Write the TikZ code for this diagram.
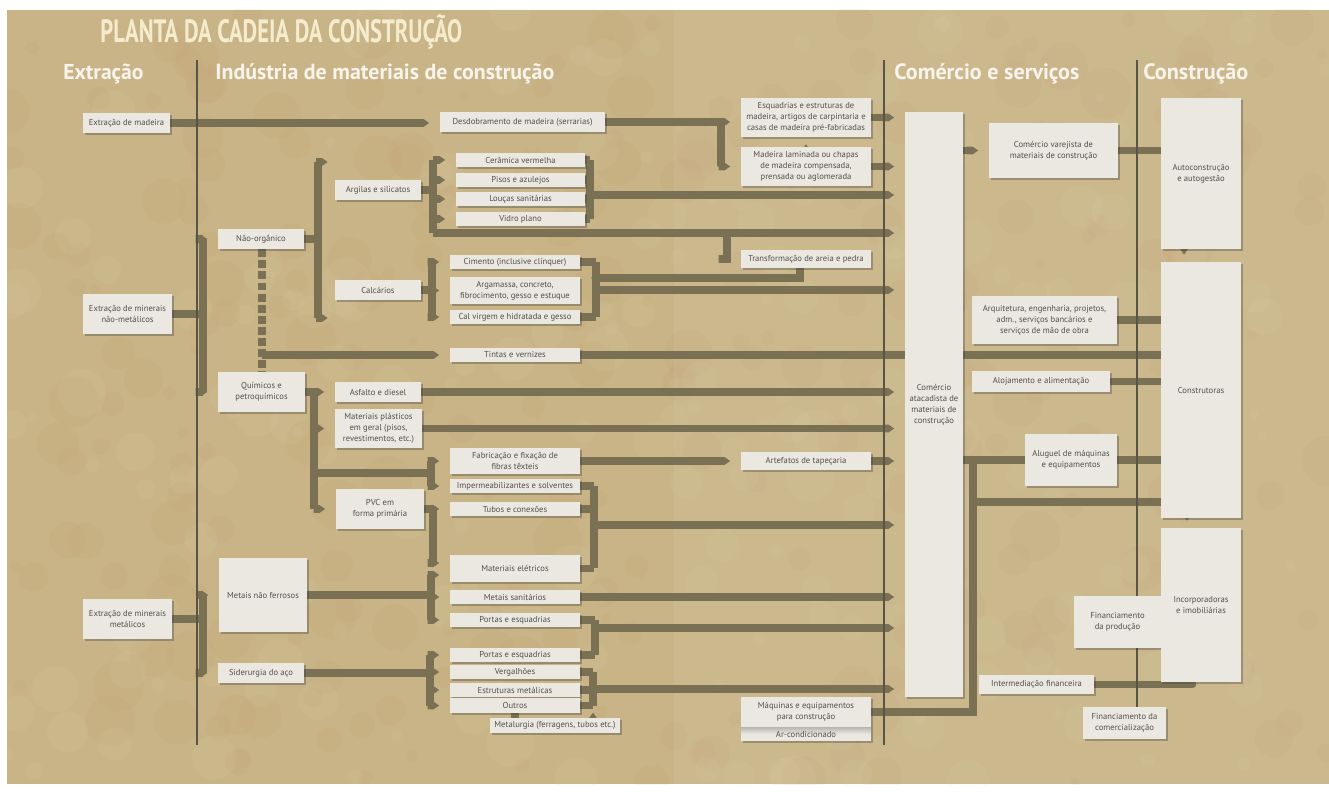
\documentclass[tikz,border=0pt]{standalone}
\usepackage{fontspec}
\setmainfont{PT Sans}
\usetikzlibrary{arrows.meta,shadows,calc}
\definecolor{bgc}{RGB}{200,180,134}
\definecolor{blotc}{RGB}{196,140,96}
\definecolor{litc}{RGB}{226,212,176}
\definecolor{boxc}{RGB}{235,232,226}
\definecolor{bandc}{RGB}{122,112,83}
\definecolor{sepc}{RGB}{88,84,70}
\definecolor{txtc}{RGB}{82,80,76}
\definecolor{titc}{RGB}{245,236,205}
\definecolor{hdc}{RGB}{248,244,236}
\pgfdeclarelayer{back}\pgfdeclarelayer{bands}
\pgfsetlayers{back,bands,main}
\newcommand\bx[6]{\node[box,minimum width={(#4-#2)*0.02cm},minimum height={(#5-#3)*0.02cm}] (#1) at ({(#2+#4)/2},{(#3+#5)/2}) {#6};}
\begin{document}
\begin{tikzpicture}[x=0.02cm,y=-0.02cm,
  band/.style={draw=bandc,line width=4.5pt},
  arr/.style={-{Triangle Cap[cap angle=70]},shorten >=6pt},
  arrs/.style={-{Triangle Cap[cap angle=70]},shorten >=4pt},
  sep/.style={draw=sepc,line width=0.9pt},
  hd/.style={anchor=base west,text=hdc,inner sep=0pt},
  box/.style={fill=boxc,inner sep=1pt,align=center,text=txtc,
    font=\fontsize{4.9pt}{6.2pt}\selectfont,
    drop shadow={shadow xshift=1.3pt,shadow yshift=-1.3pt,opacity=0.35,fill=black!75}}]
\useasboundingbox (0,0) rectangle (1329,793);
\begin{pgfonlayer}{back}
\fill[white] (0,0) rectangle (1329,793);
\fill[bgc] (7,10) rectangle (1329,784);
\begin{scope}
\clip (7,10) rectangle (1329,784);
\pgfmathsetseed{7}
\foreach \i in {1,...,260}{
  \pgfmathsetmacro\xx{7+rnd*1322}
  \pgfmathsetmacro\yy{10+rnd*774}
  \pgfmathsetmacro\rr{4+rnd*22}
  \fill[blotc,opacity=0.07] (\xx,\yy) circle[radius=\rr];
}
\foreach \i in {1,...,200}{
  \pgfmathsetmacro\xx{7+rnd*1322}
  \pgfmathsetmacro\yy{10+rnd*774}
  \pgfmathsetmacro\rr{4+rnd*20}
  \fill[litc,opacity=0.10] (\xx,\yy) circle[radius=\rr];
}
\end{scope}
\fill[white,opacity=0.06] (674,10) rectangle (1329,784);
\end{pgfonlayer}
% titles
\node[anchor=base west,text=titc,inner sep=0pt] (title) at (100,43) {\resizebox{7.24cm}{!}{\scalebox{0.7}[1]{\bfseries PLANTA DA CADEIA DA CONSTRUÇÃO}}};
\node[hd] (h1) at (63,80) {\resizebox{1.6cm}{!}{\bfseries Extração}};
\node[hd] (h2) at (215,80) {\resizebox{6.78cm}{!}{\bfseries Indústria de materiais de construção}};
\node[hd] (h3) at (894,80) {\resizebox{3.7cm}{!}{\bfseries Comércio e serviços}};
\node[hd] (h4) at (1143,80) {\resizebox{2.1cm}{!}{\bfseries Construção}};
% boxes
\bx{edm}{83}{113}{170}{133}{Extração de madeira}
\bx{emn}{83}{294}{172}{334}{Extração de minerais\\não-metálicos}
\bx{emm}{83}{599}{172}{639}{Extração de minerais\\metálicos}
\bx{nao}{218}{229}{304}{249}{Não-orgânico}
\bx{qui}{218}{372}{305}{412}{Químicos e\\petroquímicos}
\bx{mnf}{219}{558}{307}{632}{Metais não ferrosos}
\bx{sid}{218}{663}{304}{683}{Siderurgia do aço}
\bx{arg}{335}{180}{421}{200}{Argilas e silicatos}
\bx{cal}{335}{280}{421}{300}{Calcários}
\bx{asf}{335}{382}{421}{402}{Asfalto e diesel}
\bx{mpl}{335}{409}{422}{448}{Materiais plásticos\\em geral (pisos,\\revestimentos, etc.)}
\bx{pvc}{336}{489}{424}{529}{PVC em\\forma primária}
\bx{dm}{440}{112}{605}{132}{Desdobramento de madeira (serrarias)}
\bx{cv}{456}{153}{585}{167}{Cerâmica vermelha}
\bx{pa}{456}{173}{585}{187}{Pisos e azulejos}
\bx{ls}{456}{192}{585}{206}{Louças sanitárias}
\bx{vp}{456}{212}{585}{226}{Vidro plano}
\bx{cim}{450}{255}{580}{269}{Cimento (inclusive clínquer)}
\bx{arga}{450}{277}{580}{304}{Argamassa, concreto,\\fibrocimento, gesso e estuque}
\bx{calv}{450}{310}{580}{324}{Cal virgem e hidratada e gesso}
\bx{tin}{450}{348}{580}{362}{Tintas e vernizes}
\bx{fab}{450}{448}{580}{474}{Fabricação e fixação de\\fibras têxteis}
\bx{imp}{450}{479}{580}{493}{Impermeabilizantes e solventes}
\bx{tub}{450}{502}{580}{516}{Tubos e conexões}
\bx{mel}{450}{555}{580}{582}{Materiais elétricos}
\bx{msa}{450}{590}{580}{604}{Metais sanitários}
\bx{pe1}{450}{613}{580}{627}{Portas e esquadrias}
\bx{pe2}{450}{648}{580}{662}{Portas e esquadrias}
\bx{ver}{450}{665}{580}{679}{Vergalhões}
\bx{est}{450}{683}{580}{697}{Estruturas metálicas}
\bx{out}{450}{698}{580}{713}{Outros}
\bx{met}{490}{718}{620}{733}{Metalurgia (ferragens, tubos etc.)}
\bx{esq}{741}{98}{871}{137}{Esquadrias e estruturas de\\madeira, artigos de carpintaria e\\casas de madeira pré-fabricadas}
\bx{mad}{741}{147}{871}{186}{Madeira laminada ou chapas\\de madeira compensada,\\prensada ou aglomerada}
\bx{tra}{741}{250}{871}{268}{Transformação de areia e pedra}
\bx{art}{741}{452}{871}{470}{Artefatos de tapeçaria}
\bx{maq}{741}{697}{871}{727}{Máquinas e equipamentos\\para construção}
\node[box,minimum width=2.6cm,minimum height=0.28cm,top color=black!22!boxc,bottom color=boxc,middle color=boxc] (arc) at (806,734) {Ar-condicionado};
\bx{cat}{905}{112}{963}{697}{Comércio\\atacadista de\\materiais de\\construção}
\bx{cvj}{989}{123}{1118}{178}{Comércio varejista de\\materiais de construção}
\bx{arq}{972}{296}{1117}{344}{Arquitetura, engenharia, projetos,\\adm., serviços bancários e\\serviços de mão de obra}
\bx{alo}{972}{371}{1110}{392}{Alojamento e alimentação}
\bx{alu}{1025}{434}{1117}{486}{Aluguel de máquinas\\e equipamentos}
\bx{int}{979}{675}{1094}{694}{Intermediação financeira}
\bx{fpr}{1074}{596}{1161}{648}{Financiamento\\da produção}
\bx{fco}{1083}{707}{1166}{739}{Financiamento da\\comercialização}
\bx{aut}{1161}{98}{1241}{249}{Autoconstrução\\e autogestão}
\bx{con}{1161}{262}{1241}{518}{Construtoras}
\bx{inc}{1161}{528}{1241}{682}{Incorporadoras\\e imobiliárias}
% junction coordinates
\coordinate (j1) at (721,122);
\coordinate (Lb1) at (433,160);
\coordinate (Lb1b) at (433,233);
\coordinate (Rb1) at (590,195);
\coordinate (Jt) at (727,233);
\coordinate (Lb2) at (432,290);
\coordinate (Rb2) at (596,290);
\coordinate (Jt2) at (800,278);
\coordinate (Bn1) at (318,162);
\coordinate (Bn2) at (318,318);
\coordinate (Dn) at (262,355);
\coordinate (Be) at (203,314);
\coordinate (Bq) at (314,392);
\coordinate (Bf) at (431,473);
\coordinate (Bp) at (433,509);
\coordinate (Bp2) at (433,563);
\coordinate (Rb3) at (594,525);
\coordinate (Bm) at (203,619);
\coordinate (Bn) at (431,595);
\coordinate (Bn3) at (431,575);
\coordinate (Rb4) at (595,628);
\coordinate (Bs) at (430,673);
\coordinate (Rb5) at (593,689);
\coordinate (Mo) at (515,716);
\coordinate (Vm) at (973,460);
\coordinate (Vm2) at (973,502);
\coordinate (S3) at (1137,60);
\begin{pgfonlayer}{bands}
% wood
\draw[band,arr] (edm.east) -- (edm.east -| dm.west);
\draw[band,arr] (dm.east) -- (dm.east -| esq.west);
\draw[band,arr] (j1) |- (mad.west);
\draw[band,arrs] (mad.north) -- (esq.south);
\draw[band,arr] (esq.east) -- (esq.east -| cat.west);
\draw[band,arr] (mad.east) -- (mad.east -| cat.west);
% extraction minerals non metallic
\draw[band] (emn.east) -- (emn.east -| Be);
\draw[band] (nao.west -| Be) -- (qui.west -| Be);
\draw[band,arr] (nao.west -| Be) -- (nao.west);
\draw[band,arr] (qui.west -| Be) -- (qui.west);
% nao organico
\draw[band] (nao.east) -- (nao.east -| Bn1);
\draw[band] (Bn1) -- (Bn2);
\draw[band,arrs] (Bn1) -- (Bn1 -| arg.west);
\draw[band,arrs] (Bn2) -- (Bn2 -| cal.west);
\draw[band,dash pattern=on 4.5pt off 1.8pt] (nao.south -| Dn) -- (qui.north -| Dn);
\draw[band,arr] (Dn) -- (Dn -| tin.west);
\draw[band] (tin.east) -- (tin.east -| con.west);
% argilas
\draw[band] (arg.east) -- (arg.east -| Lb1);
\draw[band] (cv.west -| Lb1) -- (Lb1b);
\draw[band,arr] (Lb1b) -- (Lb1b -| cat.west);
\foreach \n in {cv,pa,ls,vp} \draw[band,arr] (\n.west -| Lb1) -- (\n.west);
\foreach \n in {cv,pa,ls,vp} \draw[band] (\n.east) -- (\n.east -| Rb1);
\draw[band] (cv.east -| Rb1) -- (vp.east -| Rb1);
\draw[band,arr] (Rb1) -- (Rb1 -| cat.west);
\draw[band,arr] (Jt) |- (tra.west);
% calcarios
\draw[band] (cal.east) -- (Lb2);
\draw[band] (cim.west -| Lb2) -- (calv.west -| Lb2);
\foreach \n in {cim,arga,calv} \draw[band,arr] (\n.west -| Lb2) -- (\n.west);
\draw[band] (cim.east) -- (cim.east -| Rb2);
\draw[band] (calv.east) -- (calv.east -| Rb2);
\draw[band] (cim.east -| Rb2) -- (calv.east -| Rb2);
\draw[band,arr] (Rb2) -- (Rb2 -| cat.west);
\draw[band,arr] (tra.south -| Jt2) -- (Jt2) -- (Jt2 -| arga.east);
% quimicos
\draw[band] (qui.east) -- (Bq);
\draw[band] (Bq) -- (pvc.west -| Bq);
\draw[band,arr] (Bq) -- (Bq -| asf.west);
\draw[band,arr] (mpl.west -| Bq) -- (mpl.west);
\draw[band,arr] (pvc.west -| Bq) -- (pvc.west);
\draw[band] (Bf -| Bq) -- (Bf);
\draw[band] (fab.west -| Bf) -- (imp.west -| Bf);
\draw[band,arr] (fab.west -| Bf) -- (fab.west);
\draw[band,arr] (imp.west -| Bf) -- (imp.west);
\draw[band,arr] (asf.east) -- (asf.east -| cat.west);
\draw[band,arr] (mpl.east) -- (mpl.east -| cat.west);
\draw[band,arr] (fab.east) -- (fab.east -| art.west);
\draw[band,arr] (art.east) -- (art.east -| cat.west);
% pvc
\draw[band] (pvc.east) -- (pvc.east -| Bp);
\draw[band] (pvc.east -| Bp) -- (Bp2);
\draw[band,arr] (tub.west -| Bp) -- (tub.west);
\draw[band,arr] (Bp2) -- (Bp2 -| mel.west);
\draw[band] (imp.east) -- (imp.east -| Rb3);
\draw[band] (tub.east) -- (tub.east -| Rb3);
\draw[band] (mel.east) -- (mel.east -| Rb3);
\draw[band] (imp.east -| Rb3) -- (mel.east -| Rb3);
\draw[band,arr] (Rb3) -- (Rb3 -| cat.west);
% metallic
\draw[band] (emm.east) -- (Bm);
\draw[band] (mnf.west -| Bm) -- (sid.west -| Bm);
\draw[band,arr] (mnf.west -| Bm) -- (mnf.west);
\draw[band,arr] (sid.west -| Bm) -- (sid.west);
\draw[band] (mnf.east) -- (mnf.east -| Bn);
\draw[band] (Bn3) -- (pe1.west -| Bn);
\draw[band,arr] (Bn3) -- (Bn3 -| mel.west);
\draw[band,arr] (msa.west -| Bn) -- (msa.west);
\draw[band,arr] (pe1.west -| Bn) -- (pe1.west);
\draw[band,arr] (msa.east) -- (msa.east -| cat.west);
\draw[band] (pe1.east) -- (pe1.east -| Rb4);
\draw[band] (pe2.east) -- (pe2.east -| Rb4);
\draw[band] (pe1.east -| Rb4) -- (pe2.east -| Rb4);
\draw[band,arr] (Rb4) -- (Rb4 -| cat.west);
\draw[band] (sid.east) -- (sid.east -| Bs);
\draw[band] (pe2.west -| Bs) -- (out.west -| Bs);
\foreach \n in {pe2,ver,est,out} \draw[band,arr] (\n.west -| Bs) -- (\n.west);
\foreach \n in {ver,est,out} \draw[band] (\n.east) -- (\n.east -| Rb5);
\draw[band] (ver.east -| Rb5) -- (out.east -| Rb5);
\draw[band,arr] (Rb5) -- (Rb5 -| cat.west);
\draw[band] (out.south -| Mo) -- (met.north -| Mo);
\draw[band,arrs] (met.north -| Rb5) -- (out.east -| Rb5);
% services
\draw[band] (maq.east) -| (Vm);
\draw[band] (cat.east |- Vm) -- (alu.west |- Vm);
\draw[band] (Vm2) -- (Vm2 -| con.west);
\draw[band] (alu.east) -- (alu.east -| con.west);
\draw[band,arr] (cat.east |- cvj.west) -- (cvj.west);
\draw[band] (cvj.east) -- (cvj.east -| aut.west);
\draw[band] (arq.east) -- (arq.east -| con.west);
\draw[band] (alo.east) -- (alo.east -| con.west);
\draw[band,arrs] ([xshift=-0.34cm]aut.south) -- ([xshift=-0.34cm]con.north);
\draw[band,arrs] ([xshift=-0.28cm]con.south) -- ([xshift=-0.28cm]inc.north);
\draw[band,line cap=round] (int.east) -- ++(98,0) coordinate (ie);
% separators
\draw[sep] (197,60) -- (197,745);
\draw[sep] (884,60) -- (884,745);
\draw[sep] (S3) -- (fco.north -| S3);
\end{pgfonlayer}
\end{tikzpicture}
\end{document}
